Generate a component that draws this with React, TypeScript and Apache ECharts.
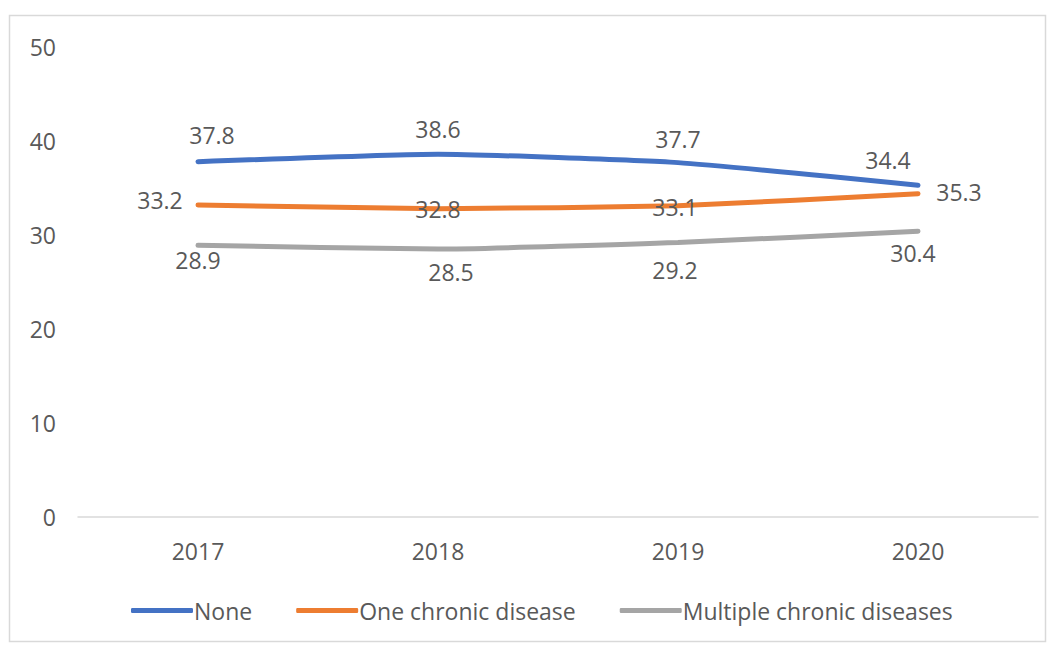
import React, { useEffect, useRef } from "react";
import * as echarts from "echarts";

const years = ["2017", "2018", "2019", "2020"];
const noneValues = [37.8, 38.6, 37.7, 35.3];
const oneValues = [33.2, 32.8, 33.1, 34.4];
const multiValues = [28.9, 28.5, 29.2, 30.4];
const seriesNames = ["None", "One chronic disease", "Multiple chronic diseases"];
const colors = ["#4472C4", "#ED7D31", "#A5A5A5"];

const FONT = "'Open Sans', 'Noto Sans', sans-serif";
const TXT = "#595959";
const FS = 23;

// label centre offsets (px) relative to each point
const noneLabelPos = [[14, -27], [0, -25], [0, -24], [41, 7]];
const oneLabelPos = [[-38, -5], [0, 0], [-3, 1], [-30, -34]];
const multiLabelPos = [[0, 15], [13, 23], [-3, 27], [-5, 22]];

function build(values: number[], pos: number[][]) {
  return values.map((v, i) => ({
    value: v,
    label: { position: pos[i], align: "center", verticalAlign: "middle" },
  }));
}

export default function App() {
  const ref = useRef<HTMLDivElement>(null);
  useEffect(() => {
    if (!ref.current) return;
    const chart = echarts.init(ref.current, null, { renderer: "svg" });
    const labelBase = {
      show: true,
      color: TXT,
      fontFamily: FONT,
      fontSize: FS,
      formatter: (p: any) => Number(p.value).toFixed(1),
    };
    const mk = (name: string, data: any[], color: string) => ({
      name,
      type: "line",
      data,
      smooth: 0.15,
      showSymbol: true,
      symbol: "circle",
      symbolSize: 0,
      lineStyle: { color, width: 5, cap: "round" },
      itemStyle: { color },
      label: labelBase,
      labelLayout: { hideOverlap: false },
      emphasis: { disabled: true },
    });
    chart.setOption({
      animation: false,
      backgroundColor: "#ffffff",
      grid: { left: 78, right: 16, top: 47, bottom: 129 },
      xAxis: {
        type: "category",
        data: years,
        boundaryGap: true,
        axisLine: { show: true, lineStyle: { color: "#D9D9D9", width: 1.5 } },
        axisTick: { show: false },
        axisLabel: { color: TXT, fontFamily: FONT, fontSize: FS, margin: 22 },
      },
      yAxis: {
        type: "value",
        min: 0,
        max: 50,
        interval: 10,
        axisLine: { show: false },
        axisTick: { show: false },
        splitLine: { show: false },
        axisLabel: { color: TXT, fontFamily: FONT, fontSize: FS, margin: 22 },
      },
      legend: {
        left: 126,
        top: 594,
        itemWidth: 62,
        itemHeight: 5,
        itemGap: 44,
        icon: "roundRect",
        textStyle: { color: TXT, fontFamily: FONT, fontSize: FS, padding: [0, 0, 0, -4] },
        data: seriesNames,
      },
      graphic: [
        {
          type: "rect",
          shape: { x: 9.5, y: 15.5, width: 1036, height: 626 },
          style: { fill: "none", stroke: "#D9D9D9", lineWidth: 1.5 },
          silent: true,
          z: -1,
        },
      ],
      series: [
        mk(seriesNames[0], build(noneValues, noneLabelPos), colors[0]),
        mk(seriesNames[1], build(oneValues, oneLabelPos), colors[1]),
        mk(seriesNames[2], build(multiValues, multiLabelPos), colors[2]),
      ],
    });
    return () => chart.dispose();
  }, []);
  return (
    <div
      ref={ref}
      style={{ position: "fixed", left: 0, top: 0, width: 1054, height: 646 }}
    />
  );
}
